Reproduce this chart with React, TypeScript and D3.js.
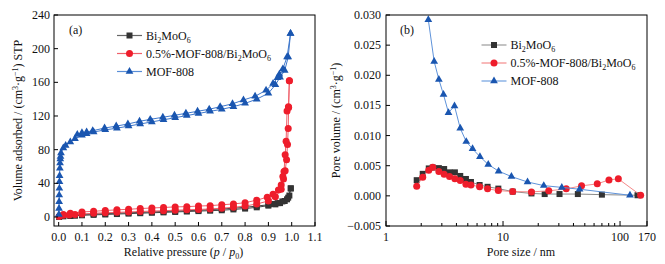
import React from "react";
import * as d3 from "d3";

// ---------- Panel (a): N2 isotherms ----------
const bmoAdsX = [0.002, 0.02, 0.05, 0.07, 0.1, 0.15, 0.2, 0.25, 0.3, 0.35, 0.4, 0.45, 0.5, 0.55, 0.6, 0.65, 0.7, 0.75, 0.8, 0.85, 0.9, 0.93, 0.95, 0.97, 0.985, 0.996];
const bmoAdsY = [0, 0.8, 1.2, 1.5, 2, 2.5, 3, 3.5, 4, 4.5, 5, 5.5, 6, 6.5, 7, 7.5, 8, 9, 10, 11.5, 13.5, 15, 16.5, 19, 23, 34];
const bmoDesX = [0.996, 0.99, 0.98, 0.96, 0.94, 0.92, 0.9, 0.85, 0.8, 0.75, 0.7, 0.65, 0.6, 0.55, 0.5, 0.45, 0.4, 0.35, 0.3, 0.25, 0.2, 0.15, 0.1, 0.05, 0.02];
const bmoDesY = [34, 25.5, 21, 18.5, 16.5, 15.5, 14.5, 13, 11.5, 10.5, 9.5, 8.8, 8, 7.5, 7, 6.5, 6, 5.5, 5, 4.5, 4, 3.5, 3, 2, 1.5];

const cmpAdsX = [0.002, 0.02, 0.045, 0.07, 0.1, 0.15, 0.2, 0.25, 0.3, 0.35, 0.4, 0.45, 0.5, 0.55, 0.6, 0.65, 0.7, 0.75, 0.8, 0.85, 0.9, 0.93, 0.955, 0.965, 0.972, 0.978, 0.982, 0.985, 0.987, 0.99];
const cmpAdsY = [0.5, 2, 2.5, 3, 3.5, 4.5, 5, 5.5, 6, 6.5, 7, 7.5, 8, 8.5, 9, 9.5, 10.5, 11.5, 13, 15.5, 19, 24, 33, 45, 55, 68, 86, 105, 130, 162];
const cmpDesX = [0.99, 0.986, 0.98, 0.976, 0.972, 0.967, 0.962, 0.955, 0.943, 0.92, 0.895, 0.85, 0.8, 0.75, 0.7, 0.65, 0.6, 0.55, 0.5, 0.45, 0.4, 0.35, 0.3, 0.25, 0.2, 0.15, 0.1, 0.05, 0.02];
const cmpDesY = [162, 131, 126, 90, 74, 54, 48, 38, 32, 27, 23.5, 20, 17, 15.5, 14.5, 13.5, 13, 12.3, 12, 11.3, 10.7, 10, 9.2, 8.5, 7.7, 6.8, 6, 4.5, 3];

const mofAdsX = [0.001, 0.0015, 0.002, 0.0025, 0.003, 0.0035, 0.004, 0.005, 0.006, 0.007, 0.008, 0.01, 0.02, 0.03, 0.05, 0.07, 0.1, 0.12, 0.15, 0.2, 0.25, 0.3, 0.35, 0.4, 0.45, 0.5, 0.55, 0.6, 0.65, 0.7, 0.75, 0.8, 0.85, 0.9, 0.93, 0.95, 0.97, 0.985, 0.995];
const mofAdsY = [3, 10, 18, 26, 34, 42, 49, 58, 64, 69, 72, 76, 82, 85, 89, 93, 97, 99, 101, 103.5, 105.5, 108, 110.5, 113, 115.5, 118, 120.5, 123, 125.5, 128, 131, 135, 140, 147, 157, 166, 174, 190, 218];
const mofDesX = [0.995, 0.98, 0.962, 0.947, 0.939, 0.92, 0.89, 0.843, 0.793, 0.746, 0.693, 0.646, 0.596, 0.546, 0.497, 0.447, 0.393, 0.347, 0.297, 0.247, 0.197, 0.146, 0.12, 0.1, 0.08];
const mofDesY = [218, 190, 176, 169.5, 165.5, 158.5, 150.5, 143.5, 139, 134.5, 131, 128, 125.6, 123.2, 120.8, 118.5, 116, 113.7, 110.5, 108, 105.7, 102.5, 101, 100, 98];

const aXTicks = [0, 0.1, 0.2, 0.3, 0.4, 0.5, 0.6, 0.7, 0.8, 0.9, 1.0, 1.1];
const aYTicks = [0, 40, 80, 120, 160, 200, 240];

// ---------- Panel (b): pore size distribution ----------
const bmoPoreX = [1.83, 2.06, 2.32, 2.51, 2.83, 3.14, 3.49, 3.88, 4.31, 4.82, 5.32, 6.31, 7.38, 9.12, 12.1, 17.5, 22.7, 30.4, 43.6, 70, 141];
const bmoPoreY = [0.0026, 0.00365, 0.00455, 0.0047, 0.0046, 0.00445, 0.0039, 0.0039, 0.0033, 0.0028, 0.0023, 0.0018, 0.0015, 0.0012, 0.0007, 0.0004, 0.0003, 0.0003, 0.0003, 0.0002, 0.0001];
const cmpPoreX = [1.83, 2.06, 2.32, 2.51, 2.83, 3.14, 3.49, 3.88, 4.31, 4.82, 5.32, 6.31, 7.38, 9.12, 12.1, 17.5, 24.6, 34.7, 46.9, 63.9, 80.4, 96.7, 150];
const cmpPoreY = [0.0016, 0.0031, 0.00426, 0.00475, 0.00403, 0.0036, 0.0032, 0.00282, 0.00254, 0.00194, 0.00182, 0.00149, 0.00116, 0.00088, 0.00071, 0.00066, 0.00083, 0.00116, 0.00166, 0.00199, 0.00265, 0.00282, 0.0001];
const mofPoreX = [2.3, 2.58, 2.83, 3.1, 3.42, 3.85, 4.31, 4.85, 5.49, 6.35, 7.48, 9.17, 11.8, 16.2, 22.3, 31.8, 45.1, 121.6];
const mofPoreY = [0.0292, 0.0223, 0.0193, 0.0168, 0.0138, 0.0149, 0.0112, 0.009, 0.0078, 0.0065, 0.0052, 0.0041, 0.0032, 0.0023, 0.0017, 0.0014, 0.0011, 0.0001];

const bYTicks = [-0.005, 0, 0.005, 0.01, 0.015, 0.02, 0.025, 0.03];
const bYTickLabels = ["\u22120.005", "0.000", "0.005", "0.010", "0.015", "0.020", "0.025", "0.030"];
const bXTicks = [1, 10, 100, 170];
const bXMinor = [2, 3, 4, 5, 6, 7, 8, 9, 20, 30, 40, 50, 60, 70, 80, 90];

const seriesNames = ["Bi2MoO6", "0.5%-MOF-808/Bi2MoO6", "MOF-808"];

const FONT = "'Liberation Serif', 'Times New Roman', serif";
const BLACK = "#333333";
const RED = "#ee1d2b";
const BLUE = "#1a56b0";

function zip(xs: number[], ys: number[]): [number, number][] {
  return xs.map((x, i) => [x, ys[i]]);
}

function Marker({ kind, x, y, fill }: { kind: string; x: number; y: number; fill: string }) {
  if (kind === "square") return <rect x={x - 3} y={y - 3} width={6} height={6} fill={fill} />;
  if (kind === "circle") return <circle cx={x} cy={y} r={3.5} fill={fill} />;
  const p = d3.symbol().type(d3.symbolTriangle).size(26)();
  return <path d={p || ""} transform={`translate(${x},${y})`} fill={fill} />;
}

function Chem({ parts }: { parts: string }) {
  const tokens = parts.split(/(\d)/).filter((t) => t.length);
  let sub = false;
  const out: React.ReactNode[] = [];
  tokens.forEach((t, i) => {
    const isDigit = /^\d$/.test(t);
    const prevToken = tokens[i - 1] || "";
    const isSub = isDigit && /[A-Za-z]$/.test(prevToken);
    let dy = 0;
    if (isSub && !sub) dy = 3;
    if (!isSub && sub) dy = -3;
    sub = isSub;
    out.push(
      <tspan key={i} dy={dy} fontSize={isSub ? 8 : 12}>
        {t}
      </tspan>
    );
  });
  return <>{out}</>;
}

function Legend({ x, y, gap, lineColors }: { x: number; y: number; gap: number; lineColors: string[] }) {
  const kinds = ["square", "circle", "triangle"];
  const fills = [BLACK, RED, BLUE];
  return (
    <g>
      {seriesNames.map((n, i) => (
        <g key={n}>
          <line x1={x} x2={x + 25} y1={y + i * gap} y2={y + i * gap} stroke={lineColors[i]} strokeWidth={1.2} />
          <Marker kind={kinds[i]} x={x + 12.5} y={y + i * gap} fill={fills[i]} />
          <text x={x + 29} y={y + i * gap + 4} fontFamily={FONT} fontSize={12} fill="#111">
            <Chem parts={n} />
          </text>
        </g>
      ))}
    </g>
  );
}

function PanelA() {
  const L = 54, R = 315, T = 15, B = 226;
  const x = d3.scaleLinear().domain([-0.02, 1.1]).range([L, R]);
  const y = d3.scaleLinear().domain([-10.7, 240]).range([B, T]);
  const line = d3.line<[number, number]>().x((d) => x(d[0])).y((d) => y(d[1]));
  const series = [
    { ads: zip(bmoAdsX, bmoAdsY), des: zip(bmoDesX, bmoDesY), kind: "square", fill: BLACK, stroke: "#444" },
    { ads: zip(cmpAdsX, cmpAdsY), des: zip(cmpDesX, cmpDesY), kind: "circle", fill: RED, stroke: "#f0606a" },
    { ads: zip(mofAdsX, mofAdsY), des: zip(mofDesX, mofDesY), kind: "triangle", fill: BLUE, stroke: "#3f78cc" },
  ];
  return (
    <g>
      <defs>
        <clipPath id="clipA">
          <rect x={L} y={T} width={R - L} height={B - T} />
        </clipPath>
      </defs>
      <g clipPath="url(#clipA)">
        {series.map((s, i) => (
          <g key={i}>
            <path d={line(s.ads) || ""} fill="none" stroke={s.stroke} strokeWidth={1} />
            <path d={line(s.des) || ""} fill="none" stroke={s.stroke} strokeWidth={1} />
            {s.ads.concat(s.des).map((d, j) => (
              <Marker key={j} kind={s.kind} x={x(d[0])} y={y(d[1])} fill={s.fill} />
            ))}
          </g>
        ))}
      </g>
      <rect x={L} y={T} width={R - L} height={B - T} fill="none" stroke="#000" strokeWidth={1} />
      {aXTicks.map((t) => (
        <g key={t}>
          <line x1={x(t)} x2={x(t)} y1={B} y2={B - 4} stroke="#000" />
          <text x={x(t)} y={B + 15} textAnchor="middle" fontFamily={FONT} fontSize={12} fill="#111">
            {t.toFixed(1)}
          </text>
        </g>
      ))}
      {aYTicks.map((t) => (
        <g key={t}>
          <line x1={L} x2={L + 4} y1={y(t)} y2={y(t)} stroke="#000" />
          <text x={L - 4} y={y(t) + 4} textAnchor="end" fontFamily={FONT} fontSize={12} fill="#111">
            {t}
          </text>
        </g>
      ))}
      <text x={(L + R) / 2 - 1} y={256} textAnchor="middle" fontFamily={FONT} fontSize={12} fill="#111">
        Relative pressure (<tspan fontStyle="italic">p</tspan> / <tspan fontStyle="italic">p</tspan>
        <tspan dy={3} fontSize={8}>0</tspan>
        <tspan dy={-3}>)</tspan>
      </text>
      <text
        transform={`translate(22,${(T + B) / 2}) rotate(-90)`}
        textAnchor="middle"
        fontFamily={FONT}
        fontSize={12}
        fill="#111"
      >
        Volume adsorbed / (cm<tspan dy={-4} fontSize={8}>3</tspan>
        <tspan dy={4}>·g</tspan>
        <tspan dy={-4} fontSize={8}>−1</tspan>
        <tspan dy={4}>) STP</tspan>
      </text>
      <text x={69} y={34} fontFamily={FONT} fontSize={12} fill="#111">(a)</text>
      <Legend x={117} y={35.5} gap={18} lineColors={["#666", "#f0606a", "#5a8fd8"]} />
    </g>
  );
}

function PanelB() {
  const L = 386, R = 647, T = 15, B = 226;
  const x = d3.scaleLog().domain([1, 170]).range([L, R]);
  const y = d3.scaleLinear().domain([-0.005, 0.03]).range([B, T]);
  const line = d3.line<[number, number]>().x((d) => x(d[0])).y((d) => y(d[1]));
  const series = [
    { pts: zip(bmoPoreX, bmoPoreY), kind: "square", fill: BLACK, stroke: "#8a8a8a" },
    { pts: zip(cmpPoreX, cmpPoreY), kind: "circle", fill: RED, stroke: "#f48a8a" },
    { pts: zip(mofPoreX, mofPoreY), kind: "triangle", fill: BLUE, stroke: "#5f93da" },
  ];
  return (
    <g>
      {series.map((s, i) => (
        <g key={i}>
          <path d={line(s.pts) || ""} fill="none" stroke={s.stroke} strokeWidth={1} />
          {s.pts.map((d, j) => (
            <Marker key={j} kind={s.kind} x={x(d[0])} y={y(d[1])} fill={s.fill} />
          ))}
        </g>
      ))}
      <rect x={L} y={T} width={R - L} height={B - T} fill="none" stroke="#000" strokeWidth={1} />
      {bXTicks.map((t) => (
        <g key={t}>
          <line x1={x(t)} x2={x(t)} y1={B} y2={B - 5} stroke="#000" />
          <text x={x(t)} y={B + 15} textAnchor="middle" fontFamily={FONT} fontSize={12} fill="#111">
            {t}
          </text>
        </g>
      ))}
      {bXMinor.map((t) => (
        <line key={t} x1={x(t)} x2={x(t)} y1={B} y2={B - 3} stroke="#000" />
      ))}
      {bYTicks.map((t, i) => (
        <g key={t}>
          <line x1={L} x2={L + 4} y1={y(t)} y2={y(t)} stroke="#000" />
          <text x={L - 5} y={y(t) + 4} textAnchor="end" fontFamily={FONT} fontSize={12} fill="#111">
            {bYTickLabels[i]}
          </text>
        </g>
      ))}
      <text x={521} y={256} textAnchor="middle" fontFamily={FONT} fontSize={12} fill="#111">
        Pore size / nm
      </text>
      <text
        transform={`translate(340,${(T + B) / 2}) rotate(-90)`}
        textAnchor="middle"
        fontFamily={FONT}
        fontSize={12}
        fill="#111"
      >
        Pore volume / (cm<tspan dy={-4} fontSize={8}>3</tspan>
        <tspan dy={4}>·g</tspan>
        <tspan dy={-4} fontSize={8}>−1</tspan>
        <tspan dy={4}>)</tspan>
      </text>
      <text x={400} y={34} fontFamily={FONT} fontSize={12} fill="#111">(b)</text>
      <Legend x={481.5} y={45} gap={18} lineColors={["#9a9a9a", "#f48a8a", "#6f9fe0"]} />
    </g>
  );
}

export default function App() {
  return (
    <svg
      width={665}
      height={264}
      viewBox="0 0 665 264"
      style={{ position: "absolute", left: 0, top: 0, background: "#fff" }}
    >
      <rect width={665} height={264} fill="#fff" />
      <PanelA />
      <PanelB />
    </svg>
  );
}
